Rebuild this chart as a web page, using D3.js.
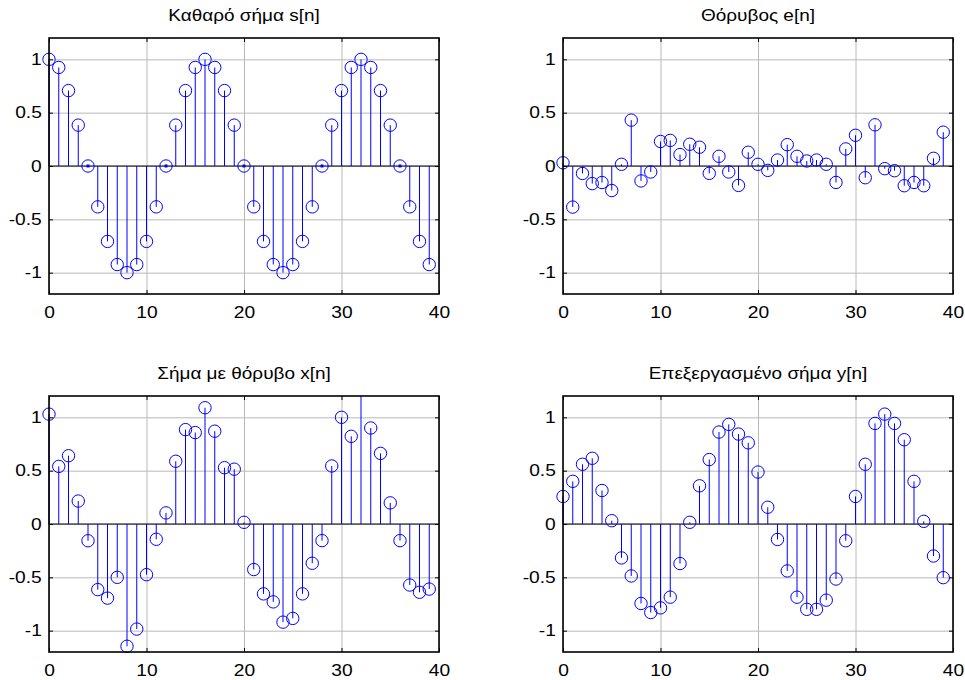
<!DOCTYPE html>
<html>
<head>
<meta charset="utf-8">
<script src="https://cdn.jsdelivr.net/npm/d3@7"></script>
<style>
body{margin:0;background:#fff;}
</style>
</head>
<body>
<svg id="mysvg" width="965" height="680"></svg>
<script>
// sample index n = 0..39
var nIdx = d3.range(40);

// Καθαρό σήμα s[n]
var sClean = [1, 0.924, 0.707, 0.383, 0, -0.383, -0.707, -0.924, -1, -0.924,
  -0.707, -0.383, 0, 0.383, 0.707, 0.924, 1, 0.924, 0.707, 0.383,
  0, -0.383, -0.707, -0.924, -1, -0.924, -0.707, -0.383, 0, 0.383,
  0.707, 0.924, 1, 0.924, 0.707, 0.383, 0, -0.383, -0.707, -0.924];

// Θόρυβος e[n]
var eNoise = [0.03, -0.385, -0.07, -0.165, -0.155, -0.23, 0.016, 0.43, -0.14, -0.056,
  0.23, 0.24, 0.107, 0.204, 0.176, -0.069, 0.091, -0.056, -0.182, 0.129,
  0.016, -0.041, 0.056, 0.2, 0.091, 0.047, 0.056, 0.016, -0.154, 0.16,
  0.288, -0.11, 0.386, -0.025, -0.044, -0.185, -0.154, -0.185, 0.072, 0.317];

// Σήμα με θόρυβο x[n]
var xNoisy = [1.03, 0.54, 0.64, 0.215, -0.157, -0.615, -0.695, -0.5, -1.146, -0.985,
  -0.475, -0.143, 0.104, 0.588, 0.885, 0.857, 1.09, 0.87, 0.528, 0.514,
  0.016, -0.427, -0.655, -0.73, -0.92, -0.885, -0.655, -0.368, -0.156, 0.544,
  1.0, 0.822, 1.386, 0.9, 0.662, 0.198, -0.156, -0.572, -0.64, -0.61];

// Επεξεργασμένο σήμα y[n]
var yOut = [0.258, 0.40, 0.56, 0.616, 0.314, 0.031, -0.318, -0.487, -0.745, -0.83,
  -0.786, -0.686, -0.371, 0.016, 0.358, 0.604, 0.862, 0.934, 0.843, 0.761,
  0.487, 0.157, -0.145, -0.44, -0.686, -0.80, -0.80, -0.714, -0.516, -0.157,
  0.258, 0.56, 0.943, 1.03, 0.943, 0.79, 0.40, 0.025, -0.30, -0.503];

var titles = ["Καθαρό σήμα s[n]", "Θόρυβος e[n]", "Σήμα με θόρυβο x[n]", "Επεξεργασμένο σήμα y[n]"];
var xTicks = [0, 10, 20, 30, 40];
var yTicks = [-1, -0.5, 0, 0.5, 1];
var yTickLabels = ["-1", "-0.5", "0", "0.5", "1"];

var W = 390, H = 256;
var font = "Arial, 'Liberation Sans', sans-serif";

var panels = [
  {title: titles[0], values: sClean, left: 49, top: 38},
  {title: titles[1], values: eNoise, left: 563, top: 38},
  {title: titles[2], values: xNoisy, left: 49, top: 396},
  {title: titles[3], values: yOut, left: 563, top: 396}
];

var svg = d3.select("#mysvg");

function styleLabels(sel){
  sel.select(".domain").remove();
  sel.selectAll("text")
    .attr("font-size", 16)
    .attr("font-family", font)
    .attr("fill", "#000")
    .attr("transform", "scale(1.2,1)");
}

function drawPanel(p){
  var g = svg.append("g")
      .attr("transform", "translate(" + p.left + "," + p.top + ")");

  var x = d3.scaleLinear().domain([0, 40]).range([0, W]);
  var y = d3.scaleLinear().domain([-1.2, 1.2]).range([H, 0]);
  var yc = y.copy().clamp(true);

  // grid
  g.append("g")
    .attr("transform", "translate(0," + H + ")")
    .call(d3.axisBottom(x).tickValues(xTicks).tickSize(-H).tickFormat(""))
    .call(function(s){ s.select(".domain").remove(); s.selectAll("line").attr("stroke", "#b8b8b8"); });
  g.append("g")
    .call(d3.axisLeft(y).tickValues(yTicks).tickSize(-W).tickFormat(""))
    .call(function(s){ s.select(".domain").remove(); s.selectAll("line").attr("stroke", "#b8b8b8"); });

  // baseline at zero
  g.append("line")
    .attr("x1", 0).attr("x2", W)
    .attr("y1", y(0)).attr("y2", y(0))
    .attr("stroke", "#000").attr("stroke-width", 1);

  var pts = p.values.map(function(v, i){ return {n: nIdx[i], v: v}; });

  g.selectAll(".stem")
    .data(pts)
    .enter().append("line")
      .attr("class", "stem")
      .attr("x1", function(d){ return x(d.n); })
      .attr("x2", function(d){ return x(d.n); })
      .attr("y1", y(0))
      .attr("y2", function(d){ return yc(d.v); })
      .attr("stroke", "#0000ff")
      .attr("stroke-width", 1);

  // markers only for points inside the limits (like matlab)
  g.selectAll(".mk")
    .data(pts.filter(function(d){ return d.v <= 1.2 && d.v >= -1.2; }))
    .enter().append("circle")
      .attr("class", "mk")
      .attr("cx", function(d){ return x(d.n); })
      .attr("cy", function(d){ return y(d.v); })
      .attr("r", 6.2)
      .attr("fill", "none")
      .attr("stroke", "#0000ff")
      .attr("stroke-width", 1);

  // zero length stems show as a dot
  g.selectAll(".dot")
    .data(pts.filter(function(d){ return d.v === 0; }))
    .enter().append("rect")
      .attr("x", function(d){ return x(d.n) - 1.5; })
      .attr("y", y(0) - 1.5)
      .attr("width", 3).attr("height", 3)
      .attr("fill", "#0000ff");

  // box
  g.append("rect")
    .attr("width", W).attr("height", H)
    .attr("fill", "none").attr("stroke", "#000").attr("stroke-width", 1.6);

  // axes, ticks pointing in
  g.append("g")
    .attr("transform", "translate(0," + H + ")")
    .call(d3.axisBottom(x).tickValues(xTicks).tickSizeInner(-4).tickSizeOuter(0).tickPadding(13))
    .call(styleLabels);
  g.append("g")
    .call(d3.axisTop(x).tickValues(xTicks).tickSizeInner(-4).tickSizeOuter(0).tickFormat(""))
    .call(styleLabels);
  g.append("g")
    .call(d3.axisLeft(y).tickValues(yTicks).tickSizeInner(-4).tickSizeOuter(0).tickPadding(6)
      .tickFormat(function(d, i){ return yTickLabels[i]; }))
    .call(styleLabels);
  g.append("g")
    .attr("transform", "translate(" + W + ",0)")
    .call(d3.axisRight(y).tickValues(yTicks).tickSizeInner(-4).tickSizeOuter(0).tickFormat(""))
    .call(styleLabels);

  g.append("text")
    .attr("text-anchor", "middle")
    .attr("transform", "translate(" + (W / 2) + ",-17) scale(1.15,1)")
    .attr("font-family", font)
    .attr("font-size", 16.5)
    .attr("fill", "#000")
    .text(p.title);
}

panels.forEach(drawPanel);
</script>
</body>
</html>
